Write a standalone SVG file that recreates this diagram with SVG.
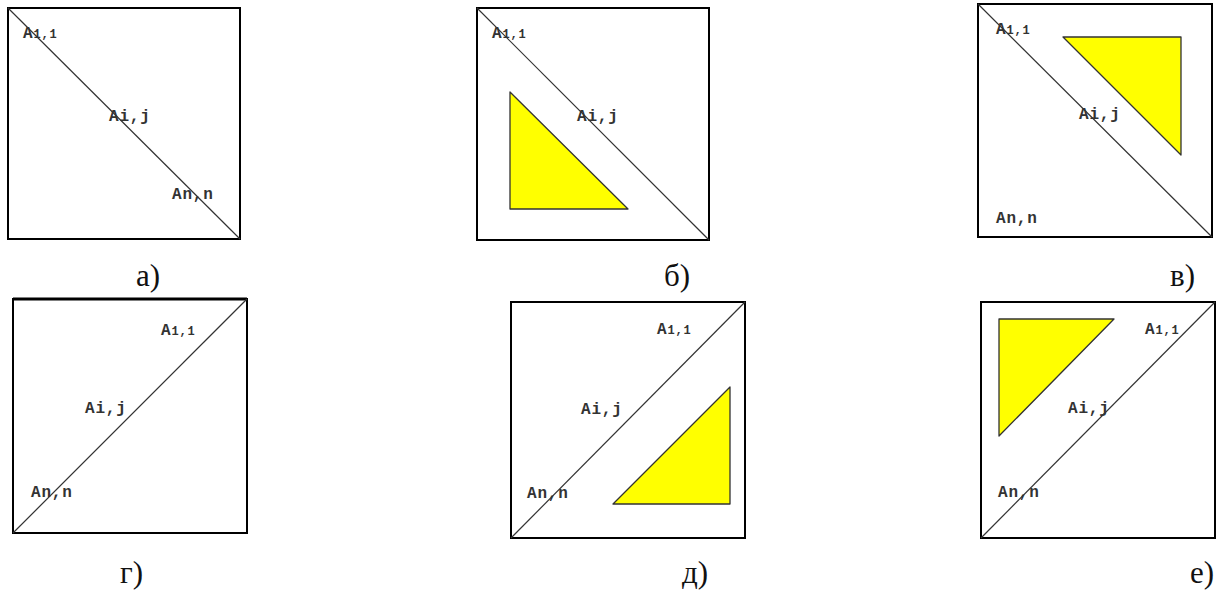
<svg xmlns="http://www.w3.org/2000/svg" width="1225" height="592" viewBox="0 0 1225 592">
<style>
.box{fill:#fff;stroke:#000;stroke-width:2}
.diag{stroke:#333;stroke-width:1.2;fill:none}
.tri{fill:#ffff00;stroke:#333;stroke-width:1.3;stroke-linejoin:round}
.lbl{font-family:"Liberation Mono",monospace;font-size:16px;font-weight:bold;fill:#333;letter-spacing:0.8px}
.sub{font-size:12px}
.cap{font-family:"Liberation Serif",serif;font-size:31px;fill:#111}
</style>
<rect width="1225" height="592" fill="#fff"/>
<g id="panel-a">
<rect class="box" x="8" y="8" width="232" height="231"/>
<g class="connectors"><line class="diag" x1="8" y1="8" x2="240" y2="239"/></g>
<text class="lbl" x="23" y="38">A<tspan class="sub">1,1</tspan></text>
<text class="lbl" x="109" y="121">Ai,j</text>
<text class="lbl" x="172" y="199">An,n</text>
<text class="cap" x="136" y="286">а)</text>
</g>
<g id="panel-b">
<rect class="box" x="477" y="8" width="232" height="232"/>
<g class="connectors"><line class="diag" x1="477" y1="8" x2="709" y2="240"/></g>
<polygon class="tri" points="510,92 510,209 628,209"/>
<text class="lbl" x="492" y="38">A<tspan class="sub">1,1</tspan></text>
<text class="lbl" x="577" y="121">Ai,j</text>
<text class="cap" x="664" y="286">б)</text>
</g>
<g id="panel-c">
<rect class="box" x="978" y="4" width="234" height="233"/>
<g class="connectors"><line class="diag" x1="978" y1="4" x2="1212" y2="237"/></g>
<polygon class="tri" points="1063,37 1181,37 1181,155"/>
<text class="lbl" x="996" y="34">A<tspan class="sub">1,1</tspan></text>
<text class="lbl" x="1079" y="119">Ai,j</text>
<text class="lbl" x="996" y="223">An,n</text>
<text class="cap" x="1170" y="286">в)</text>
</g>
<g id="panel-d">
<rect class="box" x="13" y="299" width="234" height="234"/>
<line x1="13" y1="299" x2="247" y2="299" stroke="#000" stroke-width="3"/>
<g class="connectors"><line class="diag" x1="13" y1="533" x2="247" y2="299"/></g>
<text class="lbl" x="161" y="335">A<tspan class="sub">1,1</tspan></text>
<text class="lbl" x="85" y="413">Ai,j</text>
<text class="lbl" x="31" y="497">An,n</text>
<text class="cap" x="120" y="583">г)</text>
</g>
<g id="panel-e">
<rect class="box" x="511" y="302" width="234" height="236"/>
<g class="connectors"><line class="diag" x1="511" y1="538" x2="745" y2="302"/></g>
<polygon class="tri" points="613,504 730,504 730,387"/>
<text class="lbl" x="657" y="334">A<tspan class="sub">1,1</tspan></text>
<text class="lbl" x="581" y="414">Ai,j</text>
<text class="lbl" x="527" y="498">An,n</text>
<text class="cap" x="682" y="583">д)</text>
</g>
<g id="panel-f">
<rect class="box" x="981" y="302" width="234" height="236"/>
<g class="connectors"><line class="diag" x1="981" y1="538" x2="1215" y2="302"/></g>
<polygon class="tri" points="999,319 1114,319 999,436"/>
<text class="lbl" x="1145" y="334">A<tspan class="sub">1,1</tspan></text>
<text class="lbl" x="1068" y="413">Ai,j</text>
<text class="lbl" x="998" y="497">An,n</text>
<text class="cap" x="1190" y="583">е)</text>
</g>
</svg>
